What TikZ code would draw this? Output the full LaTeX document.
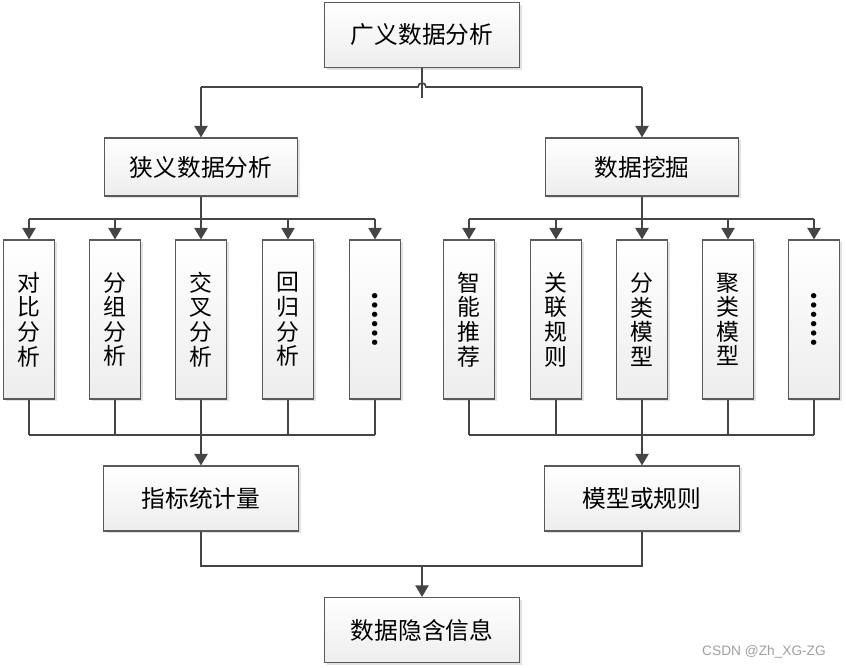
\documentclass[tikz,border=0pt]{standalone}
\usepackage{fontspec}
\usetikzlibrary{arrows.meta,shadows}
\newfontfamily\cjkfont{Noto Sans CJK SC}
\newfontfamily\markfont{Liberation Sans}
\definecolor{linegray}{HTML}{454545}
\definecolor{boxgray}{HTML}{5A5A5A}
\tikzset{
  box/.style={draw=boxgray,line width=0.7pt,top color=white,bottom color=gray!14,
              drop shadow={shadow xshift=1.4pt,shadow yshift=-1.4pt,fill=gray!45},
              inner sep=0pt,align=center},
  widebox/.style={box,minimum width=3.9cm,minimum height=1.3cm,
                  font=\cjkfont\fontsize{13.5}{16}\selectfont},
  midbox/.style={box,minimum width=3.86cm,minimum height=1.16cm,
                 font=\cjkfont\fontsize{13.5}{16}\selectfont},
  tallbox/.style={box,minimum width=1.02cm,minimum height=3.18cm,
                  font=\cjkfont\fontsize{13}{14}\selectfont},
  dots/.style={font=\cjkfont\bfseries\fontsize{14}{14}\selectfont,rotate=90,inner sep=0pt},
  link/.style={draw=linegray,line width=0.95pt},
  arrow/.style={link,-{Triangle[length=6.5pt,width=7.5pt]}},
}
\begin{document}
\begin{tikzpicture}[x=0.02cm,y=-0.02cm]
 \useasboundingbox (0,0) rectangle (846,668);

 % boxes
 \node[widebox] (broad)  at (422,35)  {广义数据分析};
 \node[midbox]  (narrow) at (201,167) {狭义数据分析};
 \node[midbox]  (mining) at (642,167) {数据挖掘};

 \node[tallbox] (a1) at (29,319.5)  {对\\比\\分\\析};
 \node[tallbox] (a2) at (115,319.5) {分\\组\\分\\析};
 \node[tallbox] (a3) at (201,319.5) {交\\叉\\分\\析};
 \node[tallbox] (a4) at (288,319.5) {回\\归\\分\\析};
 \node[tallbox] (a5) at (375,319.5) {};
 \node[dots] (a5dots) at (a5) {……};

 \node[tallbox] (b1) at (469,319.5) {智\\能\\推\\荐};
 \node[tallbox] (b2) at (556,319.5) {关\\联\\规\\则};
 \node[tallbox] (b3) at (642,319.5) {分\\类\\模\\型};
 \node[tallbox] (b4) at (728,319.5) {聚\\类\\模\\型};
 \node[tallbox] (b5) at (814,319.5) {};
 \node[dots] (b5dots) at (b5) {……};

 \node[widebox] (stat)  at (201,498.5) {指标统计量};
 \node[widebox] (model) at (642,498.5) {模型或规则};
 \node[widebox] (info)  at (422,630) {数据隐含信息};

 % junctions
 \coordinate (jtop) at (422,87);
 \coordinate (jstub) at (422,98);
 \coordinate (nbar) at (201,219);
 \coordinate (mbar) at (642,219);
 \coordinate (nbot) at (201,435);
 \coordinate (mbot) at (642,435);
 \coordinate (fbar) at (422,566);

 % top split with line hop
 \draw[link] (broad.south) -- (jstub);
 \draw[link] (narrow.north |- jtop) -- ([xshift=-4*0.02cm]jtop)
             arc (180:360:4) -- (mining.north |- jtop);
 \draw[arrow] (narrow.north |- jtop) -- (narrow.north);
 \draw[arrow] (mining.north |- jtop) -- (mining.north);

 % left group
 \draw[link] (narrow.south) -- (nbar);
 \draw[link] (nbar -| a1) -- (nbar -| a5);
 \draw[arrow] (nbar -| a1) -- (a1.north);
 \draw[arrow] (nbar -| a2) -- (a2.north);
 \draw[arrow] (nbar -| a3) -- (a3.north);
 \draw[arrow] (nbar -| a4) -- (a4.north);
 \draw[arrow] (nbar -| a5) -- (a5.north);
 \draw[link] (a1.south) -- (nbot -| a1);
 \draw[link] (a2.south) -- (nbot -| a2);
 \draw[link] (a3.south) -- (nbot -| a3);
 \draw[link] (a4.south) -- (nbot -| a4);
 \draw[link] (a5.south) -- (nbot -| a5);
 \draw[link] (nbot -| a1) -- (nbot -| a5);
 \draw[arrow] (nbot) -- (stat.north);

 % right group
 \draw[link] (mining.south) -- (mbar);
 \draw[link] (mbar -| b1) -- (mbar -| b5);
 \draw[arrow] (mbar -| b1) -- (b1.north);
 \draw[arrow] (mbar -| b2) -- (b2.north);
 \draw[arrow] (mbar -| b3) -- (b3.north);
 \draw[arrow] (mbar -| b4) -- (b4.north);
 \draw[arrow] (mbar -| b5) -- (b5.north);
 \draw[link] (b1.south) -- (mbot -| b1);
 \draw[link] (b2.south) -- (mbot -| b2);
 \draw[link] (b3.south) -- (mbot -| b3);
 \draw[link] (b4.south) -- (mbot -| b4);
 \draw[link] (b5.south) -- (mbot -| b5);
 \draw[link] (mbot -| b1) -- (mbot -| b5);
 \draw[arrow] (mbot) -- (model.north);

 % merge
 \draw[link] (stat.south) -- (stat.south |- fbar) -- (model.south |- fbar) -- (model.south);
 \draw[arrow] (fbar) -- (info.north);

 \node[font=\markfont\fontsize{7.8}{9}\selectfont,text=gray!75,anchor=east] (mark) at (832,652) {CSDN @Zh\_XG-ZG};
\end{tikzpicture}
\end{document}
